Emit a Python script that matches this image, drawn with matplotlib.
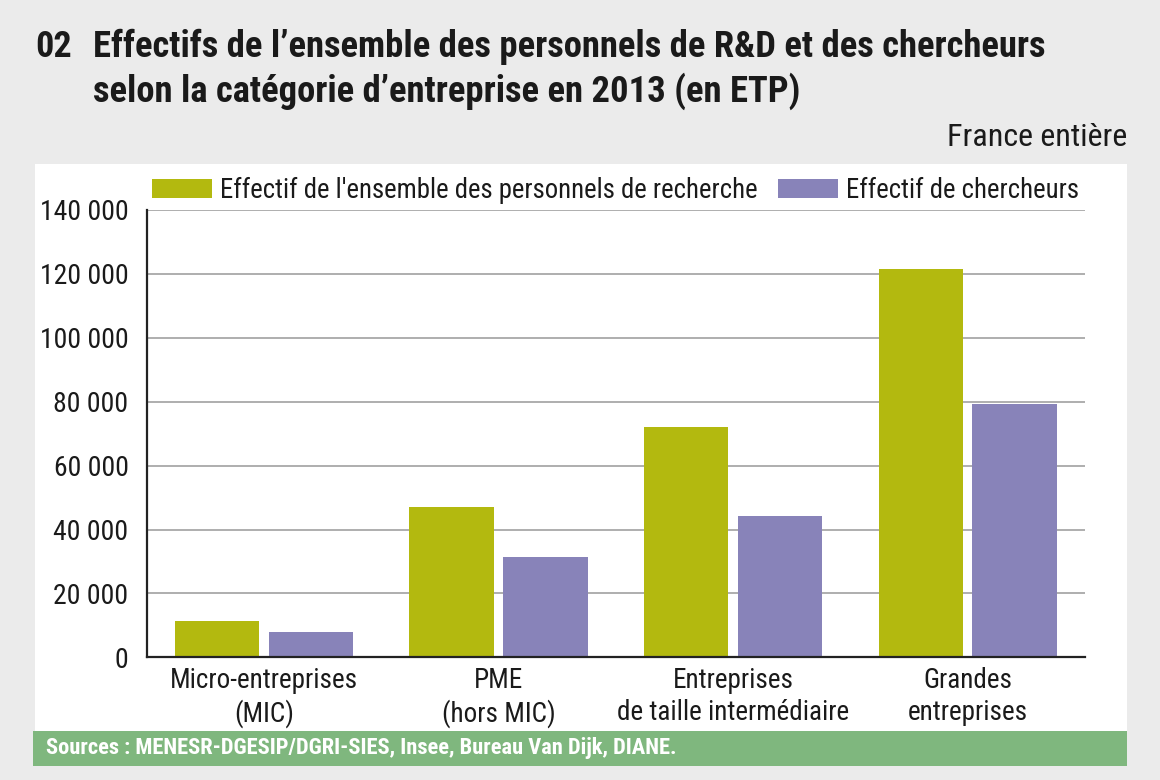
import matplotlib
matplotlib.use('Agg')
import matplotlib.pyplot as plt
from matplotlib.patches import Rectangle, Patch

# données (ETP)
categories = ['Micro-entreprises\n(MIC)', 'PME\n(hors MIC)',
              'Entreprises\nde taille intermédiaire', 'Grandes\nentreprises']
effectif_total = [11500, 47000, 72000, 121500]
effectif_chercheurs = [7800, 31300, 44200, 79400]
series_labels = ["Effectif de l'ensemble des personnels de recherche", 'Effectif de chercheurs']
yticks = [0, 20000, 40000, 60000, 80000, 100000, 120000, 140000]

plt.rcParams['font.family'] = ['Roboto Condensed', 'Liberation Sans', 'DejaVu Sans']

W, H = 1160, 780
fig = plt.figure(figsize=(11.6, 7.8), dpi=100, facecolor='#ebebeb')

def fx(px):
    return px / W

def fy(py):
    return 1 - py / H

# panneau blanc et bandeau des sources
fig.patches.append(Rectangle((fx(35), fy(731)), fx(1127 - 35), (731 - 164) / H,
                             transform=fig.transFigure, facecolor='white', edgecolor='none', zorder=-2))
fig.patches.append(Rectangle((fx(33), fy(766)), fx(1127 - 33), 35 / H,
                             transform=fig.transFigure, facecolor='#7fb77e', edgecolor='none', zorder=-2))

ax = fig.add_axes([fx(146.6), fy(657.3), fx(1085 - 146.6), (657.3 - 210) / H])
ax.set_facecolor('white')

green = '#b3b90f'
purple = '#8883b9'
x = list(range(len(categories)))
w = 0.36
ax.bar([i - 0.2 for i in x], effectif_total, width=w, color=green, zorder=3)
ax.bar([i + 0.2 for i in x], effectif_chercheurs, width=w, color=purple, zorder=3)

ax.set_xlim(-0.5, 3.5)
ax.set_ylim(0, 140000)
ax.set_yticks(yticks)
ax.set_yticklabels([f'{v:,}'.replace(',', ' ') for v in yticks], fontsize=20, color='#1a1a1a')
for v in yticks[1:]:
    ax.axhline(v, color='#a8a8a8', lw=1.3, zorder=1)
ax.set_xticks(x)
ax.set_xticklabels(categories, fontsize=19.5, linespacing=1.25, color='#1a1a1a')
ax.tick_params(length=0)
ax.tick_params(axis='y', pad=13)
ax.tick_params(axis='x', pad=7)
for s in ['top', 'right']:
    ax.spines[s].set_visible(False)
for s in ['left', 'bottom']:
    ax.spines[s].set_linewidth(1.6)
    ax.spines[s].set_color('#222222')
    ax.spines[s].set_zorder(4)

handles = [Patch(facecolor=green), Patch(facecolor=purple)]
leg = fig.legend(handles, series_labels, loc='center left', bbox_to_anchor=(fx(152), fy(190)),
                 ncol=2, frameon=False, fontsize=19.3, handlelength=2.25, handleheight=0.7,
                 handletextpad=0.3, columnspacing=0.75, borderpad=0, borderaxespad=0)
for t in leg.get_texts():
    t.set_color('#1a1a1a')

fig.text(fx(35), fy(57), '02', fontsize=26, fontweight='bold', color='#1a1a1a', va='baseline')
fig.text(fx(93), fy(57), 'Effectifs de l\u2019ensemble des personnels de R&D et des chercheurs',
         fontsize=26.4, fontweight='bold', color='#1a1a1a', va='baseline')
fig.text(fx(93), fy(102), 'selon la catégorie d\u2019entreprise en 2013 (en ETP)',
         fontsize=26.4, fontweight='bold', color='#1a1a1a', va='baseline')
fig.text(fx(1127), fy(146), 'France entière', fontsize=23, color='#1a1a1a',
         ha='right', va='baseline')
fig.text(fx(46), fy(754), 'Sources : MENESR-DGESIP/DGRI-SIES, Insee, Bureau Van Dijk, DIANE.',
         fontsize=16.2, fontweight='bold', color='white', va='baseline')

fig.savefig('out.png', dpi=100, facecolor=fig.get_facecolor())
